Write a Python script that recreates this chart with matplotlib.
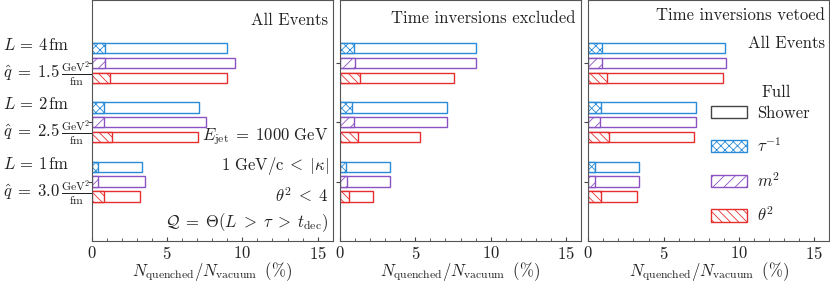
import numpy as np
import matplotlib
matplotlib.use("Agg")
import matplotlib.pyplot as plt
import matplotlib.transforms as mtransforms
from matplotlib.patches import Patch
from matplotlib.ticker import MultipleLocator

plt.rcParams['font.family'] = 'serif'
plt.rcParams['font.serif'] = ['cmr10']
plt.rcParams['mathtext.fontset'] = 'cm'
plt.rcParams['axes.formatter.use_mathtext'] = True
plt.rcParams['hatch.linewidth'] = 0.6

# medium parameters for the three groups (top to bottom)
L_vals = ['4', '2', '1']
qhat_vals = ['1.5', '2.5', '3.0']

# full shower fractions (%) per observable, one dict per panel
full_all = {'tau': [9.0, 7.1, 3.32], 'm2': [9.54, 7.59, 3.56], 'theta': [9.0, 7.04, 3.23]}
part_all = {'tau': [0.88, 0.82, 0.42], 'm2': [0.88, 0.82, 0.42], 'theta': [1.24, 1.35, 0.8]}

full_excl = {'tau': [9.02, 7.12, 3.34], 'm2': [9.02, 7.1, 3.34], 'theta': [7.58, 5.33, 2.17]}
part_excl = {'tau': [0.93, 0.82, 0.42], 'm2': [1.0, 0.93, 0.48], 'theta': [1.3, 1.19, 0.62]}

full_veto = {'tau': [9.05, 7.16, 3.36], 'm2': [9.11, 7.12, 3.34], 'theta': [8.95, 7.03, 3.25]}
part_veto = {'tau': [0.93, 0.84, 0.46], 'm2': [0.93, 0.8, 0.44], 'theta': [1.26, 1.37, 0.86]}

observables = ['tau', 'm2', 'theta']
colors = {'tau': '#2a8bd8', 'm2': '#8b52c2', 'theta': '#e62e2e'}
hatches = {'tau': 'xxxx', 'm2': '///', 'theta': '\\\\\\\\'}
obs_labels = {'tau': r'$\tau^{-1}$', 'm2': r'$m^2$', 'theta': r'$\theta^2$'}

txt_col = '#222222'
fig = plt.figure(figsize=(8.3, 2.84), dpi=100)
W = 241.0 / 830
B = 1 - 241.3 / 284
H = 241.3 / 284
lefts = [91.7 / 830, 340.0 / 830, 588.3 / 830]
panels = [(full_all, part_all), (full_excl, part_excl), (full_veto, part_veto)]
axes = []

for k, (full, part) in enumerate(panels):
    ax = fig.add_axes([lefts[k], B, W, H])
    axes.append(ax)
    for j, obs in enumerate(observables):
        pos = np.arange(3) * 4 + j
        c = colors[obs]
        ax.barh(pos, full[obs], height=0.7, facecolor='none', edgecolor=c, linewidth=1.0)
        ax.barh(pos, part[obs], height=0.7, facecolor='white', edgecolor=c,
                hatch=hatches[obs], linewidth=1.0)
    ax.set_xlim(0, 16)
    ax.set_ylim(13.03, -3.24)
    ax.xaxis.set_major_locator(MultipleLocator(5))
    ax.xaxis.set_minor_locator(MultipleLocator(1))
    ax.tick_params(axis='x', which='both', direction='in', labelsize=12, colors='#444444',
                   labelcolor=txt_col, pad=2.5)
    ax.tick_params(axis='x', which='major', length=3)
    ax.tick_params(axis='x', which='minor', length=2)
    ax.set_yticks([1, 5, 9])
    ax.set_yticklabels([])
    ax.tick_params(axis='y', direction='out', length=3, colors='#444444')
    for sp in ax.spines.values():
        sp.set_color('#555555')
        sp.set_linewidth(0.8)
    ax.set_xlabel(r'$N_{\rm quenched}/N_{\rm vacuum}\;\;(\%)$', fontsize=12, color=txt_col,
                  labelpad=-1)

# left hand labels
ax = axes[0]
trans = mtransforms.blended_transform_factory(fig.transFigure, ax.transData)
for g in range(3):
    ax.text(3 / 830, 4 * g - 0.2, r'$L\,=\,%s\,\mathrm{fm}$' % L_vals[g], transform=trans,
            ha='left', va='center', fontsize=12, color=txt_col)
    ax.text(3 / 830, 4 * g + 1.75,
            r'$\hat{q}\;=\;%s\,\frac{\mathrm{GeV}^2}{\mathrm{fm}}$' % qhat_vals[g],
            transform=trans, ha='left', va='center', fontsize=12, color=txt_col)

# annotations
ax.text(0.983, 0.917, 'All Events', transform=ax.transAxes, ha='right', va='center',
        fontsize=12, color=txt_col)
ax.text(0.983, 0.432, r'$E_{\rm jet}\;=\;1000\ \mathrm{GeV}$', transform=ax.transAxes,
        ha='right', va='center', fontsize=12, color=txt_col)
ax.text(0.983, 0.312, r'$1\ \mathrm{GeV/c}\;<\;|\kappa|$', transform=ax.transAxes,
        ha='right', va='center', fontsize=12, color=txt_col)
ax.text(0.983, 0.19, r'$\theta^2\;<\;4$', transform=ax.transAxes,
        ha='right', va='center', fontsize=12, color=txt_col)
ax.text(0.983, 0.076, r'$\mathcal{Q}\;=\;\Theta(L\;>\;\tau\;>\;t_{\rm dec})$',
        transform=ax.transAxes, ha='right', va='center', fontsize=12, color=txt_col)

axes[1].text(0.978, 0.925, 'Time inversions excluded', transform=axes[1].transAxes,
             ha='right', va='center', fontsize=12, color=txt_col)
axes[2].text(0.983, 0.938, 'Time inversions vetoed', transform=axes[2].transAxes,
             ha='right', va='center', fontsize=12, color=txt_col)
axes[2].text(0.983, 0.82, 'All Events', transform=axes[2].transAxes,
             ha='right', va='center', fontsize=12, color=txt_col)

# legend
handles = [Patch(facecolor='none', edgecolor='#444444', linewidth=1.0, label='Shower')]
for obs in observables:
    handles.append(Patch(facecolor='white', edgecolor=colors[obs], hatch=hatches[obs],
                         linewidth=1.0, label=obs_labels[obs]))
leg = axes[2].legend(handles=handles, loc='lower left', bbox_to_anchor=(0.508, 0.07),
                     frameon=False, fontsize=12, handlelength=2.2, handleheight=0.75,
                     labelspacing=0.95, borderpad=0, borderaxespad=0, handletextpad=0.6)
for t in leg.get_texts():
    t.set_color(txt_col)
axes[2].text(0.72, 0.619, 'Full', transform=axes[2].transAxes, ha='left', va='center',
             fontsize=12, color=txt_col)

fig.savefig('out.png', dpi=100)
